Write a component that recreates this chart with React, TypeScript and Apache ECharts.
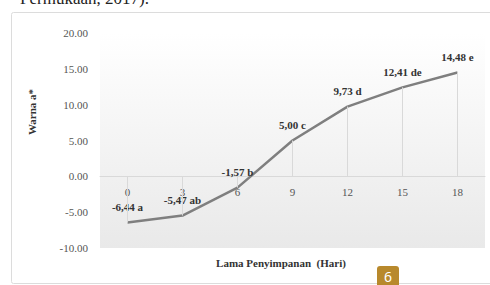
import React, { useEffect, useRef } from "react";
import * as echarts from "echarts";

const days = ["0", "3", "6", "9", "12", "15", "18"];
const warnaA = [-6.44, -5.47, -1.57, 5.0, 9.73, 12.41, 14.48];
const letters = ["a", "ab", "b", "c", "d", "de", "e"];
const yTicks = { min: -10, max: 20, interval: 5 };

const SERIF = "'Times New Roman', 'Liberation Serif', serif";

export default function App() {
  const ref = useRef<HTMLDivElement>(null);
  useEffect(() => {
    if (!ref.current) return;
    const chart = echarts.init(ref.current, null, { renderer: "svg" });
    const gridTop = 33;
    const gridBottom = 37;
    const plotH = 285 - gridTop - gridBottom;
    const zeroOffset = (plotH * (0 - yTicks.min)) / (yTicks.max - yTicks.min);
    chart.setOption({
      animation: false,
      backgroundColor: "#ffffff",
      textStyle: { fontFamily: SERIF },
      graphic: [
        {
          type: "text",
          left: 20,
          top: -10,
          style: { text: "Permukaan, 2017).", fontSize: 17, fontFamily: SERIF, fill: "#222" },
          z: 0,
        },
        {
          type: "rect",
          shape: { x: 11.5, y: 12.5, width: 490, height: 271, r: 2 },
          style: { fill: "none", stroke: "#dcdcdc", lineWidth: 1 },
          z: -1,
        },
        {
          type: "text",
          x: 32,
          y: 112,
          rotation: Math.PI / 2,
          style: {
            text: "Warna a*",
            fontSize: 11,
            fontWeight: "bold",
            fontFamily: SERIF,
            fill: "#333",
            align: "center",
            verticalAlign: "middle",
          },
        },
        {
          type: "text",
          x: 281,
          y: 263,
          style: {
            text: "Lama Penyimpanan  (Hari)",
            fontSize: 11,
            fontWeight: "bold",
            fontFamily: SERIF,
            fill: "#333",
            align: "center",
            verticalAlign: "middle",
          },
        },
        {
          type: "rect",
          shape: { x: 377, y: 266, width: 22, height: 24, r: 3 },
          style: { fill: "#b8892c" },
          z: 10,
        },
        {
          type: "text",
          x: 388,
          y: 276,
          style: {
            text: "6",
            fontSize: 14,
            fontFamily: "'Noto Sans', sans-serif",
            fill: "#ffffff",
            align: "center",
            verticalAlign: "middle",
          },
          z: 11,
        },
      ],
      grid: {
        left: 100,
        right: 5,
        top: gridTop,
        bottom: gridBottom,
        show: true,
        borderWidth: 0,
        backgroundColor: new echarts.graphic.LinearGradient(0, 0, 0, 1, [
          { offset: 0, color: "#ffffff" },
          { offset: 1, color: "#e9e9e9" },
        ]),
      },
      xAxis: {
        type: "category",
        data: days,
        boundaryGap: true,
        position: "bottom",
        offset: -zeroOffset,
        axisLine: { onZero: false, lineStyle: { color: "#d9d9d9", width: 1 } },
        axisTick: { show: false },
        axisLabel: { color: "#555", fontFamily: SERIF, fontSize: 11, margin: 10 },
        splitLine: { show: false },
      },
      yAxis: {
        type: "value",
        min: yTicks.min,
        max: yTicks.max,
        interval: yTicks.interval,
        axisLine: { show: false },
        axisTick: { show: false },
        splitLine: { show: false },
        axisLabel: {
          color: "#555",
          fontFamily: SERIF,
          fontSize: 11,
          margin: 12,
          formatter: (v: number) => v.toFixed(2),
        },
      },
      series: [
        {
          type: "line",
          data: warnaA,
          symbol: "circle",
          symbolSize: 2,
          showSymbol: true,
          itemStyle: { color: "rgba(0,0,0,0)" },
          lineStyle: { color: "#7f7f7f", width: 2.5 },
          label: {
            show: true,
            position: "top",
            distance: 9,
            fontFamily: SERIF,
            fontWeight: "bold",
            fontSize: 11,
            color: "#333",
            formatter: (p: any) =>
              p.value.toFixed(2).replace(".", ",") + " " + letters[p.dataIndex],
          },
          labelLayout: { hideOverlap: false },
          markLine: {
            silent: true,
            symbol: "none",
            label: { show: false },
            lineStyle: { color: "#d9d9d9", width: 1, type: "solid" },
            data: warnaA.map((v, i) => [
              { coord: [days[i], 0] },
              { coord: [days[i], v] },
            ]),
          },
        },
      ],
    });
    return () => chart.dispose();
  }, []);
  return <div ref={ref} style={{ width: 490, height: 285, position: "absolute", left: 0, top: 0 }} />;
}
